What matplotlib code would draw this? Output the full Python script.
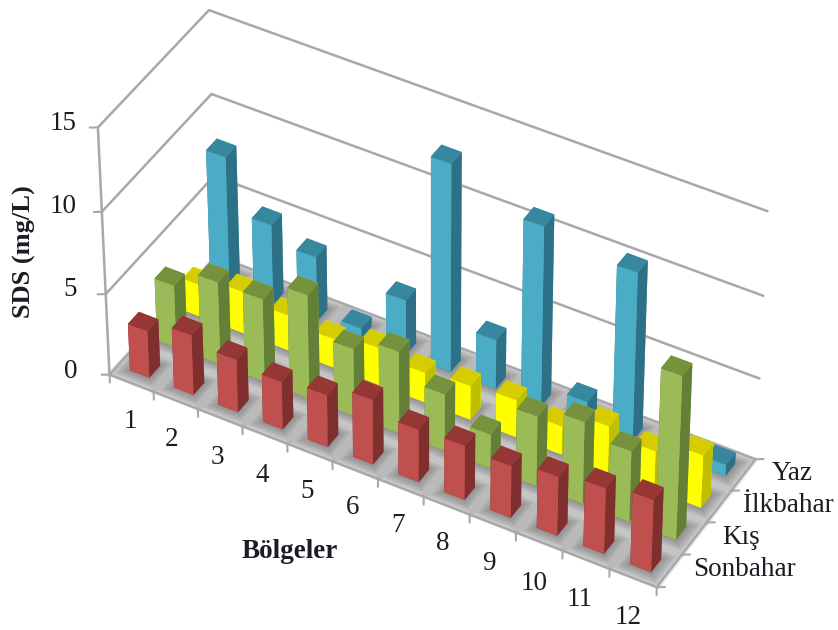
import matplotlib
matplotlib.use("Agg")
import matplotlib.pyplot as plt
from mpl_toolkits.mplot3d.art3d import Poly3DCollection

W, H = 838, 630

regions = ["1", "2", "3", "4", "5", "6", "7", "8", "9", "10", "11", "12"]
seasons = ["Sonbahar", "Kış", "İlkbahar", "Yaz"]

sonbahar = [2.9, 3.7, 3.25, 2.95, 3.2, 4.0, 3.25, 3.35, 3.2, 3.65, 4.05, 4.45]
kis = [3.85, 5.1, 5.1, 6.4, 4.15, 5.05, 3.5, 2.1, 4.3, 5.05, 4.35, 10.0]
ilkbahar = [2.0, 2.6, 2.2, 1.8, 2.3, 1.85, 2.1, 2.3, 1.75, 2.85, 2.4, 3.25]
yaz = [8.1, 4.95, 4.0, 0.6, 3.4, 12.7, 3.05, 11.0, 1.35, 10.3, 5.0, 0.7]
values = [sonbahar, kis, ilkbahar, yaz]

z_ticks = [0, 5, 10, 15]

# front, top, side colours for each row
front_colors = ["#C0504D", "#9BBB59", "#FFFF00", "#4BACC6"]
top_colors = ["#953735", "#76923C", "#D6CC00", "#37879E"]
side_colors = ["#7F2F2D", "#647F36", "#BFBF00", "#2E7187"]

GRID = "#a8a8a8"
BAR_W = 0.44
BAR_D = 0.4

plt.rcParams["font.family"] = ["Liberation Serif", "DejaVu Serif"]

fig = plt.figure(figsize=(W / 100, H / 100), dpi=100)
ax = fig.add_axes([-83.5 / W, -178.5 / H, 1000 / W, 1000 / H], projection="3d",
                  proj_type="persp", focal_length=1.13, computed_zorder=False)
ax.set_xlim(0, 12, view_margin=0)
ax.set_ylim(0, 4, view_margin=0)
ax.set_zlim(0, 15, view_margin=0)
ax.set_box_aspect((635, 213, 330), zoom=0.7248)
ax.view_init(elev=41.4, azim=-60.5)
ax.set_axis_off()
ax.patch.set_alpha(0)

order = 1


def quad(x0, x1, y0, y1, **kw):
    global order
    verts = [[(x0, y0, 0), (x1, y0, 0), (x1, y1, 0), (x0, y1, 0)]]
    ax.add_collection3d(Poly3DCollection(verts, zorder=order, linewidth=0, **kw))
    order += 1


def line(xs, ys, zs, lw=1.8):
    global order
    ax.plot(xs, ys, zs, color=GRID, lw=lw, zorder=order, solid_capstyle="round")
    order += 1


# floor
quad(0, 12, 0, 4, facecolor="#f2f2f2")

# soft shadows under the bars
for j in range(4):
    for i in range(12):
        cx, cy = i + 0.5, j + 0.5
        for k in range(7):
            grow = 0.04 + k * 0.05
            quad(cx - BAR_W / 2 - grow, cx + BAR_W / 2 + grow,
                 cy - BAR_D / 2 - grow, cy + BAR_D / 2 + grow,
                 facecolor=(0.35, 0.35, 0.35, 0.12))

# walls and axis lines
for z in z_ticks:
    line([0, 0], [0, 4], [z, z])
    line([0, 12], [4, 4], [z, z])
line([0, 0], [0, 0], [0, 15])
line([0, 12], [0, 0], [0, 0])
line([12, 12], [0, 4], [0, 0])

# tick marks
for z in z_ticks:
    line([0, -0.132], [0, -0.078], [z, z], lw=1.5)
for i in range(13):
    line([i, i], [0, 0], [0, -0.5], lw=1.5)
for j in range(5):
    line([12, 12.132], [j, j + 0.078], [0, 0], lw=1.5)

# bars, back row first and left to right within a row
for j in range(3, -1, -1):
    for i in range(12):
        faces = [top_colors[j], top_colors[j], front_colors[j],
                 front_colors[j], side_colors[j], side_colors[j]]
        bars = ax.bar3d(i + 0.5 - BAR_W / 2, j + 0.5 - BAR_D / 2, 0,
                        BAR_W, BAR_D, values[j][i], color=faces, shade=False,
                        zorder=order)
        order += 1


def label(px, py, s, size=19.5, **kw):
    fig.text(px / W, 1 - py / H, s, fontsize=size, color="#1c1c24",
             ha=kw.pop("ha", "center"), va="center", **kw)


# z tick labels
for z, py in zip(z_ticks, [372, 290, 207, 123]):
    label(77, py, str(z), ha="right")

# region labels
region_xy = [(130, 422), (172, 440), (217, 457), (262, 475), (307, 491), (353, 508),
             (398, 526), (443, 544), (489, 563), (534, 583), (580, 600), (628, 617)]
for name, (px, py) in zip(regions, region_xy):
    label(px, py, name)

# season labels
season_xy = [(693, 570), (722, 538), (743, 506), (772, 473)]
for name, (px, py) in zip(seasons, season_xy):
    label(px, py, name, ha="left")

label(290, 551, "Bölgeler", size=19.5, fontweight="bold")
label(24, 252, "SDS (mg/L)", size=19, fontweight="bold", rotation=90)

fig.savefig("out.png", dpi=100)
